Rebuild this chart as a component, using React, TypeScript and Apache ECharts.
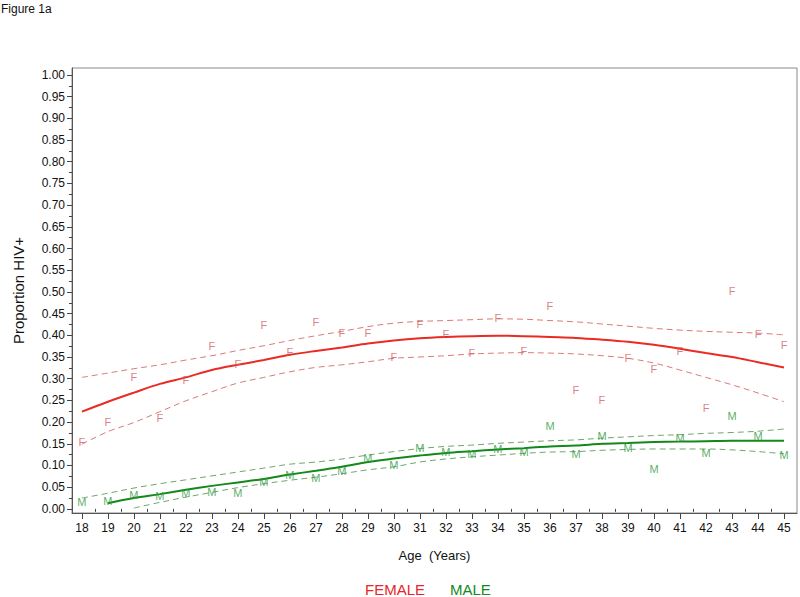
import React, { useEffect, useRef } from "react";
import * as echarts from "echarts";

const ages = [18, 19, 20, 21, 22, 23, 24, 25, 26, 27, 28, 29, 30, 31, 32, 33, 34, 35, 36, 37, 38, 39, 40, 41, 42, 43, 44, 45];

// observed proportions
const femaleObs = [0.155, 0.2, 0.304, 0.21, 0.297, 0.376, 0.334, 0.424, 0.362, 0.431, 0.405, 0.406, 0.35, 0.426, 0.403, 0.36, 0.439, 0.364, 0.468, 0.274, 0.251, 0.347, 0.323, 0.364, 0.233, 0.502, 0.402, 0.378];
const maleObs = [0.015, 0.019, 0.032, 0.03, 0.036, 0.04, 0.036, 0.063, 0.077, 0.072, 0.088, 0.117, 0.1, 0.141, 0.13, 0.127, 0.137, 0.13, 0.191, 0.126, 0.167, 0.141, 0.092, 0.163, 0.129, 0.213, 0.167, 0.124];

// fitted curves and confidence limits
const femaleFit = [0.224, 0.247, 0.268, 0.288, 0.303, 0.32, 0.332, 0.343, 0.355, 0.364, 0.372, 0.381, 0.388, 0.393, 0.396, 0.398, 0.399, 0.398, 0.396, 0.394, 0.39, 0.385, 0.378, 0.369, 0.359, 0.35, 0.338, 0.326];
const femaleUpper = [0.303, 0.313, 0.323, 0.332, 0.343, 0.353, 0.365, 0.376, 0.388, 0.399, 0.409, 0.42, 0.428, 0.432, 0.434, 0.436, 0.438, 0.437, 0.434, 0.431, 0.426, 0.421, 0.416, 0.412, 0.409, 0.407, 0.405, 0.401];
const femaleLower = [0.149, 0.178, 0.199, 0.224, 0.249, 0.27, 0.29, 0.303, 0.316, 0.326, 0.332, 0.339, 0.347, 0.35, 0.353, 0.357, 0.359, 0.36, 0.359, 0.357, 0.353, 0.347, 0.336, 0.32, 0.303, 0.286, 0.267, 0.247];
const maleFit = [null, 0.013, 0.025, 0.034, 0.044, 0.053, 0.061, 0.069, 0.079, 0.088, 0.097, 0.108, 0.116, 0.123, 0.129, 0.133, 0.137, 0.14, 0.144, 0.146, 0.15, 0.152, 0.154, 0.155, 0.156, 0.157, 0.157, 0.157];
const maleUpper = [0.025, 0.036, 0.048, 0.058, 0.067, 0.076, 0.085, 0.094, 0.103, 0.108, 0.115, 0.124, 0.132, 0.139, 0.144, 0.147, 0.151, 0.154, 0.157, 0.159, 0.163, 0.166, 0.169, 0.171, 0.174, 0.176, 0.179, 0.184];
const maleLower = [null, null, 0.002, 0.015, 0.027, 0.038, 0.049, 0.058, 0.066, 0.073, 0.081, 0.09, 0.097, 0.108, 0.115, 0.12, 0.124, 0.128, 0.131, 0.132, 0.135, 0.137, 0.138, 0.138, 0.138, 0.136, 0.132, 0.127];

const yTickLabels = ["0.00", "0.05", "0.10", "0.15", "0.20", "0.25", "0.30", "0.35", "0.40", "0.45", "0.50", "0.55", "0.60", "0.65", "0.70", "0.75", "0.80", "0.85", "0.90", "0.95", "1.00"];
const yTickValues = yTickLabels.map((s) => parseFloat(s));
const yMinorValues = yTickValues.slice(0, -1).map((v) => v + 0.025);
const xMinorValues = ages.slice(0, -1).map((a) => a + 0.5);

const pairs = (vals: (number | null)[]) =>
  ages.map((a, i) => [a, vals[i]]).filter((p) => p[1] !== null);

const FONT = "Liberation Sans, Arial, Helvetica, sans-serif";

export default function App() {
  const ref = useRef<HTMLDivElement>(null);
  useEffect(() => {
    if (!ref.current) return;
    const chart = echarts.init(ref.current, undefined, { renderer: "svg" });
    const xMin = 17.62;
    const xMax = 45.5;
    const yMin = -0.0095;
    const yMax = 1.016;
    const lineS = (name: string, vals: (number | null)[], color: string, width: number, dashed: boolean) => ({
      name,
      type: "line",
      data: pairs(vals),
      smooth: 0.35,
      showSymbol: false,
      symbol: "none",
      lineStyle: { color, width, type: dashed ? [6, 4] : "solid" },
      silent: true,
      z: dashed ? 2 : 3,
    });
    const scatterS = (name: string, vals: number[], letter: string, color: string) => ({
      name,
      type: "scatter",
      data: pairs(vals),
      symbol: "circle",
      symbolSize: 1,
      itemStyle: { color: "rgba(0,0,0,0)" },
      label: {
        show: true,
        position: "inside",
        formatter: letter,
        color,
        fontSize: 11,
        fontFamily: FONT,
      },
      z: 4,
    });
    chart.setOption({
      animation: false,
      backgroundColor: "#ffffff",
      textStyle: { fontFamily: FONT },
      grid: {
        left: 72,
        right: 3,
        top: 68,
        bottom: 84,
        show: true,
        borderColor: "#8a8a8a",
        borderWidth: 1,
        containLabel: false,
      },
      xAxis: [
        {
          type: "value",
          min: xMin,
          max: xMax,
          position: "bottom",
          name: "Age  (Years)",
          nameLocation: "middle",
          nameGap: 36,
          nameTextStyle: { fontSize: 13, color: "#111", fontFamily: FONT },
          axisLine: { show: true, onZero: false, lineStyle: { color: "#555" } },
          axisTick: { show: true, length: 6, customValues: ages, lineStyle: { color: "#444" } },
          axisLabel: { show: true, customValues: ages, margin: 9, fontSize: 12, color: "#111", fontFamily: FONT },
          splitLine: { show: false },
        },
        {
          type: "value",
          min: xMin,
          max: xMax,
          position: "bottom",
          axisLine: { show: false },
          axisTick: { show: true, length: 3, customValues: xMinorValues, lineStyle: { color: "#444" } },
          axisLabel: { show: false },
          splitLine: { show: false },
        },
      ],
      yAxis: [
        {
          type: "value",
          min: yMin,
          max: yMax,
          position: "left",
          name: "Proportion HIV+",
          nameLocation: "middle",
          nameGap: 46,
          nameRotate: 90,
          nameTextStyle: { fontSize: 15, color: "#111", fontFamily: FONT },
          axisLine: { show: true, onZero: false, lineStyle: { color: "#555" } },
          axisTick: { show: true, length: 5, customValues: yTickValues, lineStyle: { color: "#444" } },
          axisLabel: {
            show: true,
            customValues: yTickValues,
            margin: 7,
            fontSize: 12,
            color: "#111",
            fontFamily: FONT,
            formatter: (v: number) => v.toFixed(2),
          },
          splitLine: { show: false },
        },
        {
          type: "value",
          min: yMin,
          max: yMax,
          position: "left",
          axisLine: { show: false },
          axisTick: { show: true, length: 3, customValues: yMinorValues, lineStyle: { color: "#444" } },
          axisLabel: { show: false },
          splitLine: { show: false },
        },
      ],
      series: [
        lineS("Female upper", femaleUpper, "#dc7a7a", 1, true),
        lineS("Female lower", femaleLower, "#dc7a7a", 1, true),
        lineS("Female fit", femaleFit, "#ea2b24", 2, false),
        lineS("Male upper", maleUpper, "#6fa66f", 1, true),
        lineS("Male lower", maleLower, "#6fa66f", 1, true),
        lineS("Male fit", maleFit, "#13891a", 2, false),
        scatterS("FEMALE", femaleObs, "F", "#cf5f63"),
        scatterS("MALE", maleObs, "M", "#2e9a3a"),
      ],
      graphic: [
        {
          type: "text",
          left: 1,
          top: 3,
          style: { text: "Figure 1a", fontSize: 12, fill: "#111", fontFamily: FONT },
        },
        {
          type: "text",
          x: 365,
          y: 582,
          style: { text: "FEMALE", fontSize: 15, fill: "#e8262a", fontFamily: FONT },
        },
        {
          type: "text",
          x: 450,
          y: 582,
          style: { text: "MALE", fontSize: 15, fill: "#128a22", fontFamily: FONT },
        },
      ],
    });
    return () => chart.dispose();
  }, []);
  return <div ref={ref} style={{ width: 800, height: 597, position: "absolute", left: 0, top: 0 }} />;
}
